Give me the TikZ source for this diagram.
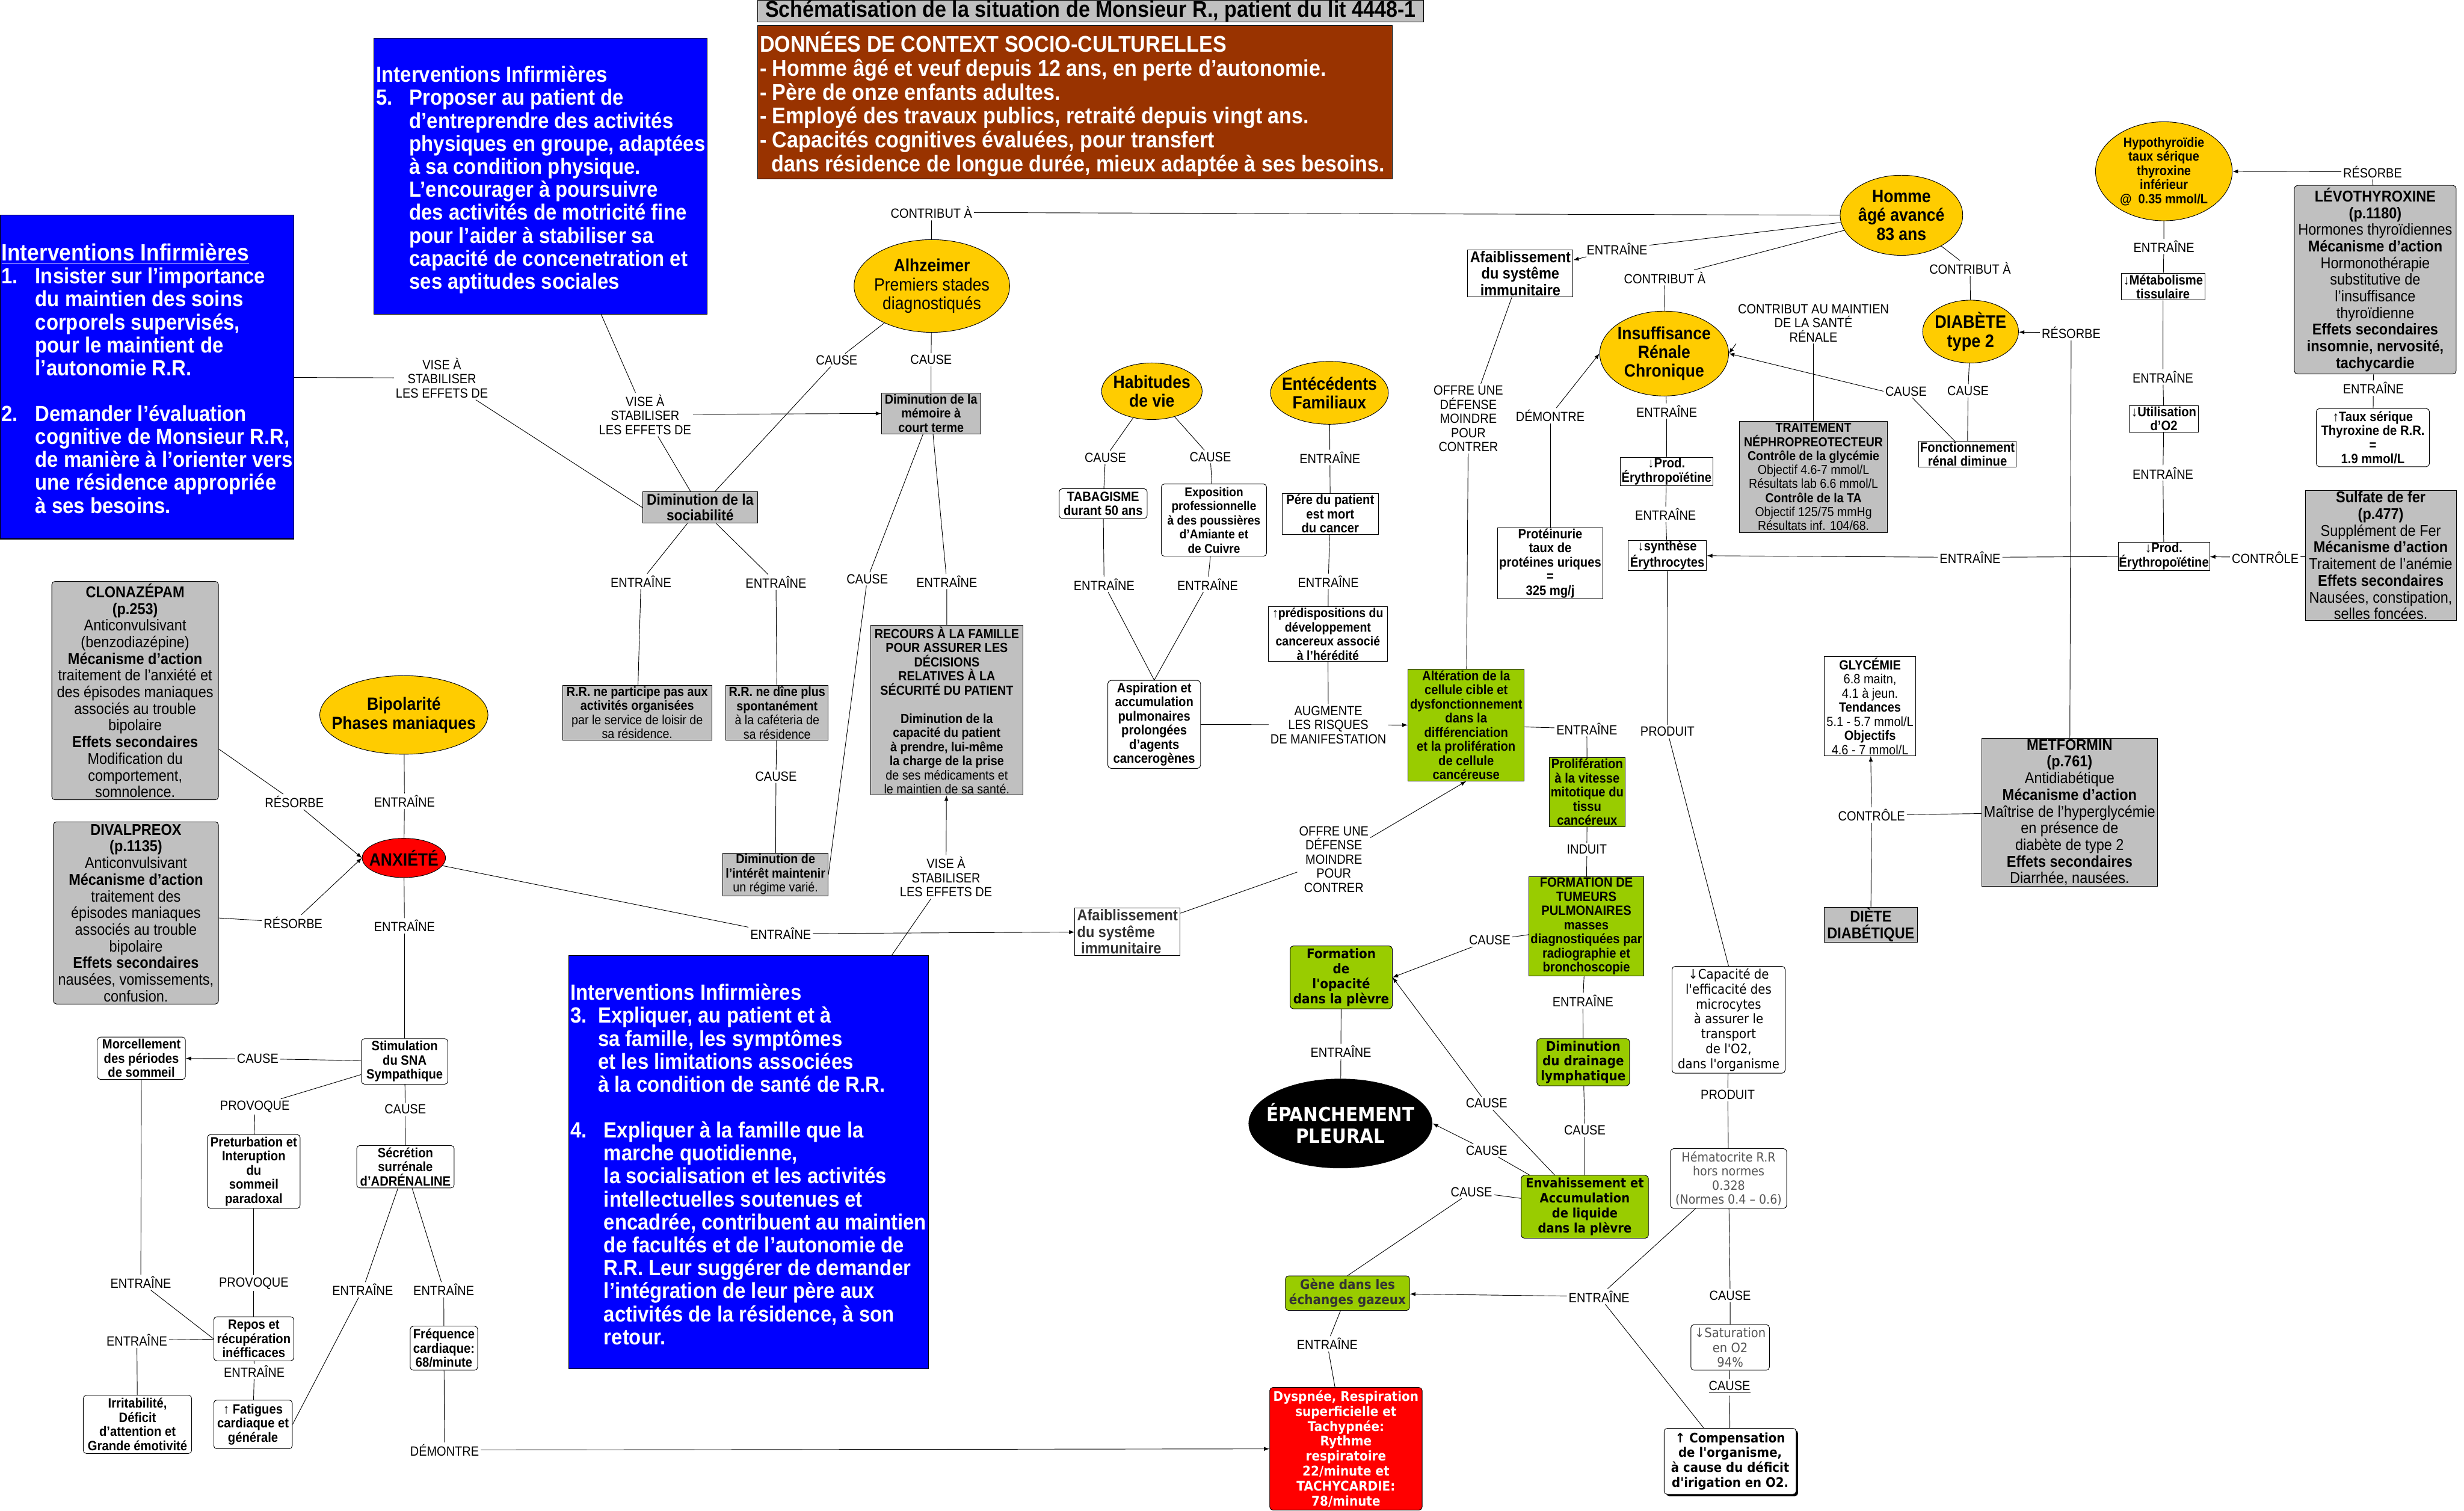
\documentclass[tikz,border=0pt]{standalone}
\usepackage{fontspec}
\setmainfont{Liberation Sans}[FakeStretch=0.9]
\newfontfamily\dvs{DejaVu Sans}[FakeStretch=0.9]
\usepackage{xcolor}
\usepackage{tikz}
\usetikzlibrary{arrows.meta,shapes.geometric,shadows}
\definecolor{jaune}{HTML}{FFCC00}
\definecolor{vertfond}{HTML}{99CC00}
\definecolor{grisfond}{HTML}{C0C0C0}
\definecolor{brun}{HTML}{993300}
\definecolor{bleuvif}{HTML}{0000FF}
\definecolor{rouge}{HTML}{FF0000}
\definecolor{gristexte}{HTML}{333333}
\definecolor{grisclair}{HTML}{555555}
\newcommand{\taille}[2]{\fontsize{#1}{#2}\selectfont}
\newcommand{\descend}[2]{\raisebox{0pt}[\dimexpr\height+#1\relax][\depth]{#2}}
\tikzset{
  boite/.style={draw, line width=0.35pt, align=center, inner sep=0.5pt},
  gris/.style={boite, fill=grisfond},
  blanc/.style={boite, fill=white},
  vert/.style={boite, fill=vertfond},
  arrondi/.style={rounded corners=2pt},
  bulle/.style={ellipse, draw, fill=jaune, line width=0.35pt, inner sep=0pt},
  ell/.style={align=center, inner sep=0pt, font=\bfseries\taille{11.3}{12}},
  bleu/.style={draw, fill=bleuvif, text=white, inner sep=0pt, font=\bfseries\taille{14}{14.55}},
  nb/.style={font=\bfseries\taille{8.6}{9}},
  med/.style={font=\taille{10}{10.6}},
  dv/.style={font=\dvs\bfseries\taille{8.5}{9.5}},
  dvn/.style={font=\dvs\taille{8.3}{9.5}},
  lbl/.style={align=center, inner sep=1pt, font=\taille{8.5}{9}},
  lien/.style={draw, line width=0.35pt},
  fleche/.style={lien, -{Latex[length=3.5pt,width=2.6pt]}},
}

\begin{document}
\begin{tikzpicture}[x=1pt,y=-1pt]
\useasboundingbox (0,0) rectangle (1568,961.6);

% en-tete et contexte
\node[gris, minimum width=424pt, minimum height=14pt, inner sep=0pt, font=\bfseries\taille{14.5}{15}] (titre) at (694,7) {Schématisation de la situation de Monsieur R., patient du lit 4448-1};
\node[boite, fill=brun, text=white, minimum width=404pt, minimum height=92pt, inner sep=0pt, font=\bfseries\taille{14.5}{15.1}] (contexte) at (684,65) {\descend{4pt}{\makebox[401pt][l]{\begin{tabular}{@{}l@{}}
DONNÉES DE CONTEXT SOCIO-CULTURELLES\\
- Homme âgé et veuf depuis 12 ans, en perte d'autonomie.\\
- Père de onze enfants adultes.\\
- Employé des travaux publics, retraité depuis vingt ans.\\
- Capacités cognitives évaluées, pour transfert\\
\hspace*{7.5pt}dans résidence de longue durée, mieux adaptée à ses besoins.
\end{tabular}}}};

% interventions infirmieres
\node[bleu, minimum width=187pt, minimum height=206pt] (bleu1) at (93.5,240) {\descend{6pt}{\makebox[185pt][l]{\begin{tabular}{@{}l@{}}
{\taille{15}{14.55}\underline{Interventions Infirmières}}\\
\makebox[21.5pt][l]{1.}Insister sur l'importance\\
\hspace*{21.5pt}du maintien des soins\\
\hspace*{21.5pt}corporels supervisés,\\
\hspace*{21.5pt}pour le maintient de\\
\hspace*{21.5pt}l'autonomie R.R.\\
\\
\makebox[21.5pt][l]{2.}Demander l'évaluation\\
\hspace*{21.5pt}cognitive de Monsieur R.R,\\
\hspace*{21.5pt}de manière à l'orienter vers\\
\hspace*{21.5pt}une résidence appropriée\\
\hspace*{21.5pt}à ses besoins.
\end{tabular}}}};
\node[bleu, minimum width=212pt, minimum height=175.6pt] (bleu5) at (344,112.2) {\descend{6pt}{\makebox[209pt][l]{\begin{tabular}{@{}l@{}}
Interventions Infirmières\\
\makebox[21pt][l]{5.}Proposer au patient de\\
\hspace*{21pt}d'entreprendre des activités\\
\hspace*{21pt}physiques en groupe, adaptées\\
\hspace*{21pt}à sa condition physique.\\
\hspace*{21pt}L'encourager à poursuivre\\
\hspace*{21pt}des activités de motricité fine\\
\hspace*{21pt}pour l'aider à stabiliser sa\\
\hspace*{21pt}capacité de concenetration et\\
\hspace*{21pt}ses aptitudes sociales
\end{tabular}}}};
\node[bleu, minimum width=229pt, minimum height=263pt] (bleu34) at (476.5,739.5) {\descend{7pt}{\makebox[227pt][l]{\begin{tabular}{@{}l@{}}
Interventions Infirmières\\
\makebox[17.6pt][l]{3.}Expliquer, au patient et à\\
\hspace*{17.6pt}sa famille, les symptômes\\
\hspace*{17.6pt}et les limitations associées\\
\hspace*{17.6pt}à la condition de santé de R.R.\\
\\
\makebox[21.3pt][l]{4.}Expliquer à la famille que la\\
\hspace*{21.3pt}marche quotidienne,\\
\hspace*{21.3pt}la socialisation et les activités\\
\hspace*{21.3pt}intellectuelles soutenues et\\
\hspace*{21.3pt}encadrée, contribuent au maintien\\
\hspace*{21.3pt}de facultés et de l'autonomie de\\
\hspace*{21.3pt}R.R. Leur suggérer de demander\\
\hspace*{21.3pt}l'intégration de leur père aux\\
\hspace*{21.3pt}activités de la résidence, à son\\
\hspace*{21.3pt}retour.
\end{tabular}}}};

% ellipses
\node[bulle, minimum width=99pt, minimum height=59pt, label={[ell, font=\taille{11.3}{12}]center:{\textbf{Alhzeimer}\\Premiers stades\\diagnostiqués}}] (alz) at (593,182) {};
\node[bulle, minimum width=78pt, minimum height=51pt, label={[ell]center:{Homme\\âgé avancé\\83 ans}}] (homme) at (1210,137) {};
\node[bulle, minimum width=87pt, minimum height=63pt, label={[ell, font=\bfseries\taille{8.5}{9}]center:{Hypothyroïdie\\taux sérique\\thyroxine\\inférieur\\@\ \ 0.35 mmol/L}}] (hypo) at (1377,109) {};
\node[bulle, minimum width=61pt, minimum height=40pt, label={[ell, font=\bfseries\taille{11.5}{12.3}]center:{DIABÈTE\\type 2}}] (diab) at (1254,211) {};
\node[bulle, minimum width=82pt, minimum height=54pt, label={[ell]center:{Insuffisance\\Rénale\\Chronique}}] (irc) at (1059,225) {};
\node[bulle, minimum width=64pt, minimum height=36pt, label={[ell]center:{Habitudes\\de vie}}] (habit) at (733,249) {};
\node[bulle, minimum width=75pt, minimum height=40pt, label={[ell]center:{Entécédents\\Familiaux}}] (antec) at (846,250) {};
\node[bulle, minimum width=107pt, minimum height=50pt, label={[ell]center:{Bipolarité\\Phases maniaques}}] (bipo) at (257,455) {};
\node[bulle, fill=rouge, minimum width=53pt, minimum height=25pt, label={[ell]center:{ANXIÉTÉ}}] (anx) at (257,546) {};
\node[ellipse, fill=black, minimum width=117pt, minimum height=57pt, inner sep=0pt, label={[ell, font=\dvs\bfseries\taille{12.5}{14}, text=white]center:{ÉPANCHEMENT\\PLEURAL}}] (epan) at (853,715) {};

% sociabilite et memoire
\node[gris, minimum width=63pt, minimum height=26pt, font=\bfseries\taille{8.4}{9}] (memoire) at (592.5,263) {Diminution de la\\mémoire à\\court terme};
\node[gris, minimum width=73pt, minimum height=20pt, font=\bfseries\taille{9.7}{10}] (sociab) at (445.5,323) {Diminution de la\\sociabilité};
\node[gris, minimum width=95pt, minimum height=35pt, font=\taille{8.4}{9}] (rrpart) at (405.5,453.5) {\textbf{R.R. ne participe pas aux}\\\textbf{activités organisées}\\par le service de loisir de\\sa résidence.};
\node[gris, minimum width=65pt, minimum height=35pt, font=\taille{8.4}{9}] (rrdine) at (494.5,453.5) {\textbf{R.R. ne dîne plus}\\\textbf{spontanément}\\à la caféteria de\\sa résidence};
\node[gris, minimum width=67pt, minimum height=27pt, font=\taille{8.4}{9}] (interet) at (493.5,556.5) {\textbf{Diminution de}\\\textbf{l'intérêt maintenir}\\un régime varié.};
\node[gris, minimum width=97pt, minimum height=108pt, font=\taille{8.4}{9}] (recours) at (602.5,452) {\textbf{RECOURS À LA FAMILLE}\\\textbf{POUR ASSURER LES}\\\textbf{DÉCISIONS}\\\textbf{RELATIVES À LA}\\\textbf{SÉCURITÉ DU PATIENT}\\[9pt]\textbf{Diminution de la}\\\textbf{capacité du patient}\\\textbf{à prendre, lui-même}\\\textbf{la charge de la prise}\\de ses médicaments et\\le maintien de sa santé.};

% medicaments
\node[gris, arrondi, med, minimum width=106pt, minimum height=139pt, inner ysep=0pt] (clona) at (86,439.5) {\textbf{CLONAZÉPAM}\\\textbf{(p.253)}\\Anticonvulsivant\\(benzodiazépine)\\\textbf{Mécanisme d'action}\\traitement de l'anxiété et\\des épisodes maniaques\\associés au trouble\\bipolaire\\\textbf{Effets secondaires}\\Modification du\\comportement,\\somnolence.};
\node[gris, arrondi, med, minimum width=105pt, minimum height=116pt, inner ysep=0pt] (dival) at (86.5,581) {\textbf{DIVALPREOX}\\\textbf{(p.1135)}\\Anticonvulsivant\\\textbf{Mécanisme d'action}\\traitement des\\épisodes maniaques\\associés au trouble\\bipolaire\\\textbf{Effets secondaires}\\nausées, vomissements,\\confusion.};
\node[gris, minimum width=94pt, minimum height=71pt, inner ysep=0pt, font=\taille{8.3}{8.9}] (traitement) at (1154,303.5) {\textbf{TRAITEMENT}\\\textbf{NÉPHROPREOTECTEUR}\\\textbf{Contrôle de la glycémie}\\Objectif 4.6-7 mmol/L\\Résultats lab 6.6 mmol/L\\\textbf{Contrôle de la TA}\\Objectif 125/75 mmHg\\Résultats inf. 104/68.};
\node[gris, arrondi, med, minimum width=103pt, minimum height=120pt, inner ysep=0pt] (levo) at (1511.5,178) {\textbf{LÉVOTHYROXINE}\\\textbf{(p.1180)}\\Hormones thyroïdiennes\\\textbf{Mécanisme d'action}\\Hormonothérapie\\substitutive de\\l'insuffisance\\thyroïdienne\\\textbf{Effets secondaires}\\\textbf{insomnie, nervosité,}\\\textbf{tachycardie}};
\node[blanc, arrondi, nb, minimum width=72pt, minimum height=37pt] (taux) at (1510,278.5) {↑Taux sérique\\Thyroxine de R.R.\\=\\1.9 mmol/L};
\node[gris, med, minimum width=96pt, minimum height=83pt, inner ysep=0pt] (sulfate) at (1515,353.5) {\textbf{Sulfate de fer}\\\textbf{(p.477)}\\Supplément de Fer\\\textbf{Mécanisme d'action}\\Traitement de l'anémie\\\textbf{Effets secondaires}\\Nausées, constipation,\\selles foncées.};
\node[gris, med, minimum width=112pt, minimum height=94pt, inner ysep=0pt] (metfor) at (1317,517) {\textbf{METFORMIN}\\\textbf{(p.761)}\\Antidiabétique\\\textbf{Mécanisme d'action}\\Maîtrise de l'hyperglycémie\\en présence de\\diabète de type 2\\\textbf{Effets secondaires}\\Diarrhée, nausées.};
\node[blanc, minimum width=58pt, minimum height=63pt, font=\taille{8.5}{9}] (glyc) at (1190,449.5) {\textbf{GLYCÉMIE}\\6.8 maitn,\\4.1 à jeun.\\\textbf{Tendances}\\5.1 - 5.7 mmol/L\\\textbf{Objectifs}\\4.6 - 7 mmol/L};
\node[gris, minimum width=59pt, minimum height=21pt, font=\bfseries\taille{10}{10.5}] (diete) at (1190.5,588.5) {DIÈTE\\DIABÉTIQUE};

% reins et sang
\node[blanc, minimum width=67pt, minimum height=30pt, font=\bfseries\taille{10}{10.5}] (afaib1) at (967.5,174) {Afaiblissement\\du systême\\immunitaire};
\node[blanc, nb, minimum width=59pt, minimum height=18pt] (prodE1) at (1060.5,300) {↓Prod.\\Érythropoïétine};
\node[blanc, nb, minimum width=62pt, minimum height=16pt, font=\bfseries\taille{8.6}{8.8}] (fonct) at (1252,289) {Fonctionnement\\rénal diminue};
\node[blanc, nb, minimum width=53pt, minimum height=17pt] (metab) at (1376.5,182.5) {↓Métabolisme\\tissulaire};
\node[blanc, nb, minimum width=44pt, minimum height=17pt] (utilis) at (1377,266.5) {↓Utilisation\\d'O2};
\node[blanc, nb, minimum width=58pt, minimum height=18pt] (prodE2) at (1377,354) {↓Prod.\\Érythropoïétine};
\node[blanc, nb, minimum width=50pt, minimum height=19pt] (synth) at (1061,353.5) {↓synthèse\\Érythrocytes};
\node[blanc, nb, minimum width=67pt, minimum height=45pt] (protein) at (986.5,358.5) {Protéinurie\\taux de\\protéines uriques\\=\\325 mg/j};

% antecedents et habitudes
\node[blanc, nb, minimum width=61pt, minimum height=26pt] (pere) at (846.5,327) {Pére du patient\\est mort\\du cancer};
\node[blanc, nb, minimum width=76pt, minimum height=35pt, font=\bfseries\taille{8.3}{9}] (predis) at (845,403.5) {↑prédispositions du\\développement\\cancereux associé\\à l'hérédité};
\node[blanc, arrondi, nb, minimum width=56pt, minimum height=19pt] (tabag) at (702,320.5) {TABAGISME\\durant 50 ans};
\node[blanc, arrondi, nb, minimum width=67pt, minimum height=46pt, font=\bfseries\taille{8.1}{9}] (expo) at (772.5,331) {Exposition\\professionnelle\\à des poussières\\d'Amiante et\\de Cuivre};
\node[blanc, arrondi, nb, minimum width=59pt, minimum height=56pt] (aspir) at (734.5,461) {Aspiration et\\accumulation\\pulmonaires\\prolongées\\d'agents\\cancerogènes};
\node[blanc, minimum width=67pt, minimum height=30pt, align=left, text=gristexte, font=\bfseries\taille{10}{10.5}] (afaib2) at (717.5,593) {Afaiblissement\\du systême\\\ immunitaire};

% cancer et plevre
\node[vert, nb, minimum width=74pt, minimum height=71pt] (alter) at (933,461.5) {Altération de la\\cellule cible et\\dysfonctionnement\\dans la\\différenciation\\et la prolifération\\de cellule\\cancéreuse};
\node[vert, nb, minimum width=48pt, minimum height=44pt] (prolif) at (1010,504) {Prolifération\\à la vitesse\\mitotique du\\tissu\\cancéreux};
\node[vert, nb, minimum width=73pt, minimum height=63pt] (formtum) at (1009.5,589.5) {FORMATION DE\\TUMEURS\\PULMONAIRES\\masses\\diagnostiquées par\\radiographie et\\bronchoscopie};
\node[vert, arrondi, dv, minimum width=65pt, minimum height=40pt] (opac) at (853.5,622) {Formation\\de\\l'opacité\\dans la plèvre};
\node[vert, arrondi, dv, minimum width=59pt, minimum height=30pt] (draina) at (1007.5,676) {Diminution\\du drainage\\lymphatique};
\node[vert, arrondi, dv, minimum width=81pt, minimum height=40pt, font=\dvs\bfseries\taille{8.3}{9.5}] (envah) at (1008.5,768) {Envahissement et\\Accumulation\\de liquide\\dans la plèvre};
\node[vert, arrondi, dv, minimum width=79pt, minimum height=22pt, text=gristexte] (gene) at (857.5,823) {Gène dans les\\échanges gazeux};
\node[boite, arrondi, dv, fill=rouge, text=white, minimum width=97pt, minimum height=78pt] (dysp) at (856.5,922) {Dyspnée, Respiration\\superficielle et\\Tachypnée:\\Rythme\\respiratoire\\22/minute et\\TACHYCARDIE:\\78/minute};
\node[blanc, arrondi, dvn, minimum width=72pt, minimum height=68pt, font=\dvs\taille{8.4}{9.5}] (capac) at (1100,649) {↓Capacité de\\l'efficacité des\\microcytes\\à assurer le\\transport\\de l'O2,\\dans l'organisme};
\node[blanc, arrondi, dvn, minimum width=74pt, minimum height=38pt, text=grisclair, font=\dvs\taille{8.1}{9}] (hemat) at (1100,750) {Hématocrite R.R\\hors normes\\0.328\\(Normes 0.4 – 0.6)};
\node[blanc, arrondi, dvn, minimum width=50pt, minimum height=29pt, text=grisclair] (satur) at (1101,857.5) {↓Saturation\\en O2\\94\%};
\node[blanc, arrondi, dv, minimum width=84pt, minimum height=42pt, font=\dvs\bfseries\taille{8.4}{9.5}, drop shadow={shadow xshift=1.2pt, shadow yshift=-1.2pt, fill=black, opacity=1}] (compens) at (1101,930) {↑ Compensation\\de l'organisme,\\à cause du déficit\\d'irigation en O2.};

% anxiete et sommeil
\node[blanc, arrondi, nb, minimum width=55pt, minimum height=29pt] (stimul) at (257.5,675.5) {Stimulation\\du SNA\\Sympathique};
\node[blanc, arrondi, nb, minimum width=56pt, minimum height=27pt] (morcel) at (90,673.5) {Morcellement\\des périodes\\de sommeil};
\node[blanc, arrondi, nb, minimum width=59pt, minimum height=47pt] (pretur) at (161.5,745.5) {Preturbation et\\Interuption\\du\\sommeil\\paradoxal};
\node[blanc, arrondi, nb, minimum width=62pt, minimum height=27pt] (secret) at (258,742.5) {Sécrétion\\surrénale\\d'ADRÉNALINE};
\node[blanc, arrondi, nb, minimum width=51pt, minimum height=28pt] (repos) at (161.5,852) {Repos et\\récupération\\inéfficaces};
\node[blanc, arrondi, nb, minimum width=43pt, minimum height=28pt] (freq) at (282.5,858) {Fréquence\\cardiaque:\\68/minute};
\node[blanc, arrondi, nb, minimum width=69pt, minimum height=37pt] (irrit) at (87.5,906.5) {Irritabilité,\\Déficit\\d'attention et\\Grande émotivité};
\node[blanc, arrondi, nb, minimum width=50pt, minimum height=31pt] (fatig) at (161,906.5) {↑ Fatigues\\cardiaque et\\générale};

% etiquettes des liens
\node[lbl] (lVise1) at (281.2,240.5) {VISE À\\STABILISER\\LES EFFETS DE};
\node[lbl] (lVise5) at (410.5,263.8) {VISE À\\STABILISER\\LES EFFETS DE};
\node[lbl] (lVise34) at (602,558.1) {VISE À\\STABILISER\\LES EFFETS DE};
\node[lbl] (lCauseA1) at (532.4,229.2) {CAUSE};
\node[lbl] (lCauseA2) at (592.5,229) {CAUSE};
\node[lbl] (lContrib1) at (592.7,135.3) {CONTRIBUT À};
\node[lbl] (lEntrH) at (1029,158.5) {ENTRAÎNE};
\node[lbl] (lContribH1) at (1059.4,176.7) {CONTRIBUT À};
\node[lbl] (lContribH2) at (1253.7,170.8) {CONTRIBUT À};
\node[lbl] (lMaintien) at (1154,205.6) {CONTRIBUT AU MAINTIEN\\DE LA SANTÉ\\RÉNALE};
\node[lbl] (lCauseD) at (1252.4,248.7) {CAUSE};
\node[lbl] (lCauseF) at (1212.9,249) {CAUSE};
\node[lbl] (lEntrIRC) at (1060.6,261.6) {ENTRAÎNE};
\node[lbl] (lEntrPE) at (1059.9,327.4) {ENTRAÎNE};
\node[lbl] (lProduit1) at (1061.1,465.6) {PRODUIT};
\node[lbl] (lEntrE2) at (1253.7,354.7) {ENTRAÎNE};
\node[lbl] (lCtrlSulf) at (1441.5,354.7) {CONTRÔLE};
\node[lbl] (lEntrUt) at (1376.4,301) {ENTRAÎNE};
\node[lbl] (lEntrMet) at (1376.4,239.9) {ENTRAÎNE};
\node[lbl] (lEntrHyp) at (1377,156.8) {ENTRAÎNE};
\node[lbl] (lResLevo) at (1509.8,109.3) {RÉSORBE};
\node[lbl] (lEntrLevo) at (1510.3,247) {ENTRAÎNE};
\node[lbl] (lResMet) at (1318,211.8) {RÉSORBE};
\node[lbl] (lCtrlMet) at (1191,518.7) {CONTRÔLE};
\node[lbl] (lOffre1) at (934.4,266.4) {OFFRE UNE\\DÉFENSE\\MOINDRE\\POUR\\CONTRER};
\node[lbl] (lOffre2) at (848.8,546.8) {OFFRE UNE\\DÉFENSE\\MOINDRE\\POUR\\CONTRER};
\node[lbl] (lDemontre1) at (986.5,264.5) {DÉMONTRE};
\node[lbl] (lEntrAnt) at (846.3,291.1) {ENTRAÎNE};
\node[lbl] (lEntrPere) at (845.3,370) {ENTRAÎNE};
\node[lbl] (lAugm) at (845.3,461.3) {AUGMENTE\\LES RISQUES\\DE MANIFESTATION};
\node[lbl] (lCauseTab) at (703.4,291.1) {CAUSE};
\node[lbl] (lCauseExp) at (770.2,290.7) {CAUSE};
\node[lbl] (lEntrTab) at (702.6,371.9) {ENTRAÎNE};
\node[lbl] (lEntrExp) at (768.5,371.9) {ENTRAÎNE};
\node[lbl] (lEntrAlt) at (1009.8,463.8) {ENTRAÎNE};
\node[lbl] (lInduit) at (1009.8,540.6) {INDUIT};
\node[lbl] (lCauseForm) at (948,598.4) {CAUSE};
\node[lbl] (lEntrForm) at (1007.3,637) {ENTRAÎNE};
\node[lbl] (lCauseDrain) at (1008.5,719.3) {CAUSE};
\node[lbl] (lCauseEnv1) at (946,702.2) {CAUSE};
\node[lbl] (lCauseEnv2) at (946,732.1) {CAUSE};
\node[lbl] (lCauseEnv3) at (936.4,758.5) {CAUSE};
\node[lbl] (lEntrOpac) at (853.3,669.2) {ENTRAÎNE};
\node[lbl] (lEntrHem) at (1017.6,825.1) {ENTRAÎNE};
\node[lbl] (lProduit2) at (1099.5,696.7) {PRODUIT};
\node[lbl] (lCauseHem) at (1101,824.5) {CAUSE};
\node[lbl] (lCauseSat) at (1100.6,883) {\underline{CAUSE}};
\node[lbl] (lEntrGene) at (844.6,855.2) {ENTRAÎNE};
\node[lbl] (lEntrAnx) at (496.8,594.2) {ENTRAÎNE};
\node[lbl] (lCauseMem) at (551.9,368.4) {CAUSE};
\node[lbl] (lEntrMem) at (602.5,370) {ENTRAÎNE};
\node[lbl] (lEntrSoc1) at (407.9,370) {ENTRAÎNE};
\node[lbl] (lEntrSoc2) at (493.8,370.5) {ENTRAÎNE};
\node[lbl] (lCauseDine) at (493.8,494.1) {CAUSE};
\node[lbl] (lResClona) at (187.3,510.3) {RÉSORBE};
\node[lbl] (lResDival) at (186.5,587.1) {RÉSORBE};
\node[lbl] (lEntrBipo) at (257.4,509.9) {ENTRAÎNE};
\node[lbl] (lEntrAnx2) at (257.4,589.2) {ENTRAÎNE};
\node[lbl] (lCauseStim) at (164,673.8) {CAUSE};
\node[lbl] (lProvStim) at (162.2,704.3) {PROVOQUE};
\node[lbl] (lCauseStim2) at (257.9,706) {CAUSE};
\node[lbl] (lProvPret) at (161.5,816.7) {PROVOQUE};
\node[lbl] (lEntrMorc) at (89.6,816.1) {ENTRAÎNE};
\node[lbl] (lEntrRepos) at (87.1,852.9) {ENTRAÎNE};
\node[lbl] (lEntrRepos2) at (161.8,872.9) {ENTRAÎNE};
\node[lbl] (lEntrSec1) at (230.8,820.8) {ENTRAÎNE};
\node[lbl] (lEntrSec2) at (282.4,820.8) {ENTRAÎNE};
\node[lbl] (lDemontre2) at (282.9,922.8) {DÉMONTRE};

% liens
\draw[lien] (bleu1) -- (lVise1) (lVise1) -- (sociab.west);
\draw[lien] (bleu5) -- (lVise5) (lVise5) -- (sociab);
\draw[fleche] (lVise5) -- (memoire);
\draw[lien] (alz) -- (lCauseA1) (lCauseA1) -- (sociab);
\draw[lien] (alz) -- (lCauseA2) (lCauseA2) -- (memoire);
\draw[lien] (homme) -- (lContrib1.east) (lContrib1) -- (alz);
\draw[lien] (homme) -- (lEntrH);
\draw[fleche] (lEntrH) -- (afaib1);
\draw[lien] (homme) -- (lContribH1) (lContribH1) -- (irc);
\draw[lien] (homme) -- (lContribH2) (lContribH2) -- (diab);
\draw[lien] (traitement) -- (lMaintien);
\draw[fleche] (lMaintien.south west) -- (irc.east);
\draw[lien] (diab) -- (lCauseD) (lCauseD) -- (fonct);
\draw[lien] (fonct) -- (lCauseF);
\draw[fleche] (lCauseF.west) -- (irc.east);
\draw[lien] (irc) -- (lEntrIRC) (lEntrIRC) -- (prodE1);
\draw[lien] (prodE1) -- (lEntrPE) (lEntrPE) -- (synth);
\draw[lien] (synth) -- (lProduit1) (lProduit1) -- (capac.north);
\draw[lien] (prodE2) -- (lEntrE2);
\draw[fleche] (lEntrE2) -- (synth);
\draw[lien] (sulfate) -- (lCtrlSulf);
\draw[fleche] (lCtrlSulf) -- (prodE2);
\draw[lien] (utilis) -- (lEntrUt) (lEntrUt) -- (prodE2);
\draw[lien] (metab) -- (lEntrMet) (lEntrMet) -- (utilis);
\draw[lien] (hypo) -- (lEntrHyp) (lEntrHyp) -- (metab);
\draw[lien] (levo) -- (lResLevo);
\draw[fleche] (lResLevo) -- (hypo);
\draw[lien] (levo) -- (lEntrLevo) (lEntrLevo) -- (taux);
\draw[lien] (metfor) -- (lResMet);
\draw[fleche] (lResMet) -- (diab);
\draw[lien] (metfor) -- (lCtrlMet) (diete) -- (lCtrlMet);
\draw[fleche] (lCtrlMet) -- (glyc);
\draw[lien] (afaib1) -- (lOffre1) (lOffre1) -- (alter);
\draw[lien] (protein) -- (lDemontre1);
\draw[fleche] (lDemontre1) -- (irc.west);
\draw[lien] (antec) -- (lEntrAnt) (lEntrAnt) -- (pere);
\draw[lien] (pere) -- (lEntrPere) (lEntrPere) -- (predis);
\draw[lien] (predis) -- (lAugm) (aspir) -- (lAugm);
\draw[fleche] (lAugm) -- (alter);
\draw[lien] (habit) -- (lCauseTab) (lCauseTab) -- (tabag);
\draw[lien] (habit) -- (lCauseExp) (lCauseExp) -- (expo);
\draw[lien] (tabag) -- (lEntrTab) (lEntrTab) -- (aspir.north);
\draw[lien] (expo) -- (lEntrExp) (lEntrExp) -- (aspir.north);
\draw[lien] (alter) -- (lEntrAlt) (lEntrAlt) -- (prolif);
\draw[lien] (prolif) -- (lInduit) (lInduit) -- (formtum);
\draw[lien] (formtum) -- (lCauseForm);
\draw[fleche] (lCauseForm) -- (opac.east);
\draw[lien] (formtum) -- (lEntrForm) (lEntrForm) -- (draina);
\draw[lien] (draina) -- (lCauseDrain) (lCauseDrain) -- (envah);
\draw[lien] (envah) -- (lCauseEnv1);
\draw[fleche] (lCauseEnv1) -- (opac.east);
\draw[lien] (envah) -- (lCauseEnv2);
\draw[fleche] (lCauseEnv2) -- (epan.east);
\draw[lien] (envah) -- (lCauseEnv3) (lCauseEnv3) -- (gene.north);
\draw[lien] (opac) -- (lEntrOpac) (lEntrOpac) -- (epan);
\draw[lien] (hemat) -- (lEntrHem) (lEntrHem) -- (compens);
\draw[fleche] (lEntrHem) -- (gene);
\draw[lien] (capac) -- (lProduit2) (lProduit2) -- (hemat);
\draw[lien] (hemat) -- (lCauseHem) (lCauseHem) -- (satur);
\draw[lien] (satur) -- (lCauseSat) (lCauseSat) -- (compens);
\draw[lien] (gene) -- (lEntrGene) (lEntrGene) -- (dysp);
\draw[lien] (anx) -- (lEntrAnx);
\draw[fleche] (lEntrAnx) -- (afaib2);
\draw[lien] (afaib2) -- (lOffre2);
\draw[fleche] (lOffre2) -- (alter.south);
\draw[lien] (bleu34) -- (lVise34);
\draw[fleche] (lVise34) -- (recours);
\draw[lien] (memoire) -- (lCauseMem) (lCauseMem) -- (interet.east);
\draw[lien] (memoire) -- (lEntrMem) (lEntrMem) -- (recours);
\draw[lien] (sociab) -- (lEntrSoc1) (lEntrSoc1) -- (rrpart);
\draw[lien] (sociab) -- (lEntrSoc2) (lEntrSoc2) -- (rrdine);
\draw[lien] (rrdine) -- (lCauseDine) (lCauseDine) -- (interet);
\draw[lien] (clona) -- (lResClona);
\draw[fleche] (lResClona) -- (anx.west);
\draw[lien] (dival) -- (lResDival);
\draw[fleche] (lResDival) -- (anx.west);
\draw[lien] (bipo) -- (lEntrBipo) (lEntrBipo) -- (anx);
\draw[lien] (anx) -- (lEntrAnx2) (lEntrAnx2) -- (stimul);
\draw[lien] (stimul) -- (lCauseStim);
\draw[fleche] (lCauseStim) -- (morcel);
\draw[lien] (stimul) -- (lProvStim) (lProvStim) -- (pretur);
\draw[lien] (stimul) -- (lCauseStim2) (lCauseStim2) -- (secret);
\draw[lien] (pretur) -- (lProvPret) (lProvPret) -- (repos);
\draw[lien] (morcel) -- (lEntrMorc) (lEntrMorc) -- (repos.west);
\draw[lien] (repos) -- (lEntrRepos) (lEntrRepos) -- (irrit);
\draw[lien] (repos) -- (lEntrRepos2) (lEntrRepos2) -- (fatig);
\draw[lien] (secret) -- (lEntrSec1) (lEntrSec1) -- (fatig.east);
\draw[lien] (secret) -- (lEntrSec2) (lEntrSec2) -- (freq);
\draw[lien] (freq) -- (lDemontre2);
\draw[fleche] (lDemontre2) -- (dysp);
\end{tikzpicture}
\end{document}
